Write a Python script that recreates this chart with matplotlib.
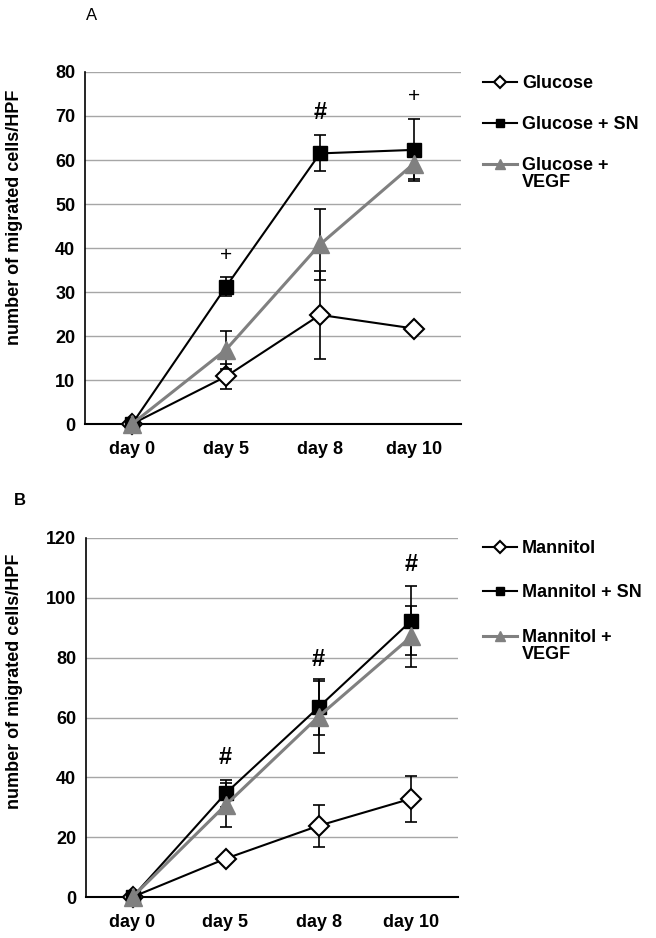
import matplotlib.pyplot as plt

plt.rcParams['font.family'] = ['Liberation Sans', 'DejaVu Sans']

days = ["day 0", "day 5", "day 8", "day 10"]

# Panel A - glucose
glucose = [0, 10.8, 24.8, 21.7]
glucose_err = [0, 2.9, 10.0, 0.8]
glucose_sn = [0, 31.2, 61.5, 62.3]
glucose_sn_err = [0, 2.1, 4.1, 7.0]
glucose_vegf = [0, 16.9, 40.8, 59.2]
glucose_vegf_err = [0, 4.3, 8.1, 3.5]
marks_a = ["", "+", "#", "+"]
marks_a_y = [0, 38.2, 70.9, 74.5]

# Panel B - mannitol
mannitol = [0, 12.8, 23.8, 32.9]
mannitol_err = [0, 0.8, 7.0, 7.7]
mannitol_sn = [0, 34.6, 63.4, 92.4]
mannitol_sn_err = [0, 4.5, 9.4, 11.4]
mannitol_vegf = [0, 30.7, 60.3, 87.1]
mannitol_vegf_err = [0, 7.3, 12.0, 10.3]
marks_b = ["", "#", "#", "#"]
marks_b_y = [0, 46.7, 79.5, 111.0]

W, H = 656, 938
fig = plt.figure(figsize=(W / 100, H / 100), dpi=100)


def panel(rect, series, ymax, ystep, marks, marks_y, names, leg_top, leg_sp):
    ax = fig.add_axes(rect)
    x = list(range(len(days)))
    styles = [
        dict(color="black", marker="D", ms=10, mfc="white", mec="black", mew=1.5, lw=1.5),
        dict(color="black", marker="s", ms=10, mfc="black", mec="black", lw=1.5),
        dict(color="#808080", marker="^", ms=13, mfc="#808080", mec="#808080", lw=2.2),
    ]
    handles = []
    for i, ((vals, err), st) in enumerate(zip(series, styles)):
        ax.errorbar(x, vals, yerr=err, fmt="none", ecolor="black", elinewidth=1.2,
                    capsize=4, capthick=1.2, zorder=3 + 2 * i)
        h, = ax.plot(x, vals, clip_on=False, zorder=4 + 2 * i, **st)
        handles.append(h)

    for xi, s, yv in zip(x, marks, marks_y):
        if s:
            ax.text(xi, yv, s, ha="center", va="center", fontsize=17 if s == "#" else 15,
                    fontweight="bold" if s == "#" else "normal")

    ax.set_xlim(-0.5, 3.5)
    ax.set_ylim(0, ymax)
    ax.set_yticks(range(0, ymax + 1, ystep))
    ax.set_xticks(x)
    ax.set_xticklabels(days)
    ax.tick_params(length=0, labelsize=13)
    ax.tick_params(axis="y", pad=7)
    ax.tick_params(axis="x", pad=12.5)
    for lab in ax.get_xticklabels() + ax.get_yticklabels():
        lab.set_fontweight("bold")
    ax.grid(axis="y", color="#a6a6a6", lw=1)
    ax.set_axisbelow(True)
    for s in ["top", "right"]:
        ax.spines[s].set_visible(False)
    ax.spines["left"].set_linewidth(1.2)
    ax.spines["bottom"].set_linewidth(1.5)
    ax.set_ylabel("number of migrated cells/HPF", fontsize=13, fontweight="bold")

    leg = ax.legend(handles, names[:2] + [names[2] + " +"], loc="upper left",
                    bbox_to_anchor=(483 / W, 1 - leg_top / H), bbox_transform=fig.transFigure,
                    frameon=False, borderpad=0, borderaxespad=0, handlelength=1.9,
                    handletextpad=0.25, labelspacing=leg_sp, markerscale=0.6,
                    prop=dict(size=13, weight="bold"))
    ax.annotate("VEGF", xy=(0, 0), xycoords=leg.get_texts()[2], xytext=(0, 0),
                textcoords="offset points", ha="left", va="top",
                fontsize=13, fontweight="bold", zorder=10)
    return ax


ax_a = panel([85 / W, 1 - 424 / H, 376 / W, 352 / H],
             [(glucose, glucose_err), (glucose_sn, glucose_sn_err), (glucose_vegf, glucose_vegf_err)],
             80, 10, marks_a, marks_a_y, ["Glucose", "Glucose + SN", "Glucose"], 75, 1.33)
ax_a.yaxis.set_label_coords(-0.165, 0.587)

ax_b = panel([86 / W, 1 - 897 / H, 372 / W, 359 / H],
             [(mannitol, mannitol_err), (mannitol_sn, mannitol_sn_err), (mannitol_vegf, mannitol_vegf_err)],
             120, 20, marks_b, marks_b_y, ["Mannitol", "Mannitol + SN", "Mannitol"], 540, 1.52)
ax_b.yaxis.set_label_coords(-0.17, 0.60)

fig.text(86 / W, 1 - 15 / H, "A", fontsize=12, va="center", ha="left")
fig.text(14 / W, 1 - 500 / H, "B", fontsize=12, va="center", ha="left", fontweight="bold")

fig.savefig("out.png", dpi=100)
